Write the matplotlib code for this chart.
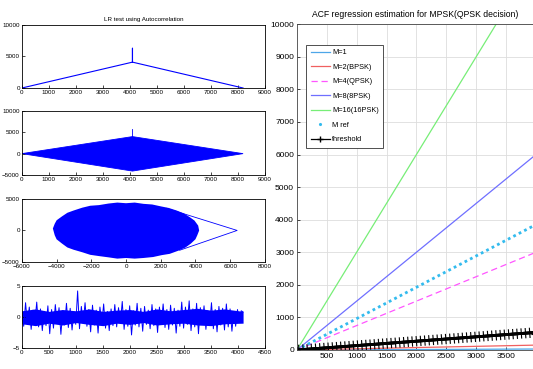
import numpy as np
import matplotlib
matplotlib.use("Agg")
import matplotlib.pyplot as plt
import matplotlib.patheffects as pe
from matplotlib.lines import Line2D

plt.rcParams['font.family'] = ['Liberation Sans', 'DejaVu Sans']

# ---- left column: LR test using autocorrelation ----
acf_abs_x = [0, 4096, 4096, 4096, 8192]
acf_abs_y = [0, 4100, 6300, 4100, 0]

acf_re_x = [0, 4096, 8192, 4096]
acf_re_y = [0, 4000, 0, -4100]
acf_re_spike = [4000, 5900]

blob_x = [-4150, -4050, -3950, -3650, -3350, -3000, -2500, -2050, -1550, -1000, -500, 0, 500, 1000,
          1500, 2000, 2450, 2900, 3300, 3650, 3900, 4100, 4150, 4050, 3950, 3700, 3400, 3000,
          2500, 2050, 1550, 1000, 500, 0, -500, -1000, -1550, -2050, -2500, -3000, -3350,
          -3650, -3950, -4050]
blob_y = [300, 1000, 1500, 2100, 2650, 3000, 3450, 3750, 3850, 4100, 4250, 4150, 4250, 4050,
          3950, 3650, 3400, 3000, 2550, 1950, 1450, 700, 0, -700, -1300, -1950, -2550, -3050,
          -3550, -3750, -4050, -4200, -4300, -4200, -4300, -4100, -3900, -3700, -3300, -2900,
          -2550, -1950, -1300, -700]
tri_x = [2320, 6400, 3090]
tri_y = [3510, 0, -3140]

sig_vals = [0.8, -1.5, 2.3, -1.2, 1.6, -2.0, 1.1, -0.9, 2.4, -1.6,
            1.3, -2.2, 0.9, -1.4, 1.8, -2.7, 1.2, -1.8, 2.0, -1.1,
            1.5, -2.8, 1.0, -1.3, 2.2, -1.7, 1.4, -2.1, 0.8, -1.2,
            4.2, -1.9, 1.7, -1.0, 2.3, -1.5, 1.2, -2.4, 1.9, -1.3,
            1.1, -2.6, 1.6, -1.1, 2.1, -1.8, 0.9, -2.2, 1.3, -1.4,
            2.0, -1.6, 1.5, -1.0, 2.5, -2.0, 1.2, -1.5, 1.8, -2.9,
            1.0, -1.3, 2.2, -1.6, 1.4, -2.3, 1.7, -1.2, 1.1, -1.9,
            2.0, -1.4, 1.3, -2.5, 1.6, -1.0, 2.1, -1.7, 1.2, -2.0,
            1.9, -1.3, 1.4, -2.6, 1.1, -1.5, 2.4, -1.8, 1.6, -1.2,
            2.6, -2.2, 1.3, -1.6, 2.2, -2.7, 1.5, -1.1, 1.8, -2.0,
            1.0, -1.4, 2.3, -1.9, 1.2, -2.4, 1.7, -1.3, 1.4, -2.1,
            2.1, -1.6, 1.3, -2.3, 0.9, -1.5, 1.2, -0.8, 1.0, 0.8]
sig_len = 4096
# dense core of the noise band
band_x = [0, 250, 500, 750, 1000, 1250, 1500, 1750, 2000, 2250, 2500, 2750, 3000, 3250,
          3500, 3750, 4096]
band_hi = [1.0, 1.3, 0.9, 1.2, 1.0, 1.3, 0.9, 1.1, 1.2, 0.9, 1.3, 1.0, 1.2, 1.4, 1.1, 1.3, 0.9]
band_lo = [-1.1, -1.4, -1.0, -1.3, -0.9, -1.2, -1.4, -1.0, -1.2, -0.9, -1.3, -1.1, -1.0, -1.3,
           -1.4, -1.1, -1.0]

# ---- right: ACF regression ----
reg_x = [0, 4000]
reg_lines = {
    "M=1": [0, 30],
    "M=2(BPSK)": [0, 150],
    "M=4(QPSK)": [0, 3000],
    "M=8(8PSK)": [0, 6000],
    "M=16(16PSK)": [0, 12000],
}
mref_y = [0, 3850]
thr_y = [0, 540]

blue = "#0000ff"
fig = plt.figure(figsize=(5.33, 3.69), dpi=100)

def style_small(ax):
    ax.tick_params(direction="in", length=2, width=0.5, labelsize=4.5, pad=1.5)
    for s in ax.spines.values():
        s.set_linewidth(0.6)

ax1 = fig.add_axes([0.041, 0.7615, 0.456, 0.171])
ax1.plot(acf_abs_x, acf_abs_y, color=blue, lw=0.8)
ax1.set_xlim(0, 9000)
ax1.set_ylim(0, 10000)
ax1.set_xticks(range(0, 9001, 1000))
ax1.set_yticks([0, 5000, 10000])
ax1.set_title("LR test using Autocorrelation", fontsize=4.5, pad=3)
style_small(ax1)

ax2 = fig.add_axes([0.041, 0.526, 0.456, 0.173])
ax2.fill(acf_re_x, acf_re_y, color=blue, lw=0.6)
ax2.plot([4096, 4096], acf_re_spike, color=blue, lw=0.6)
ax2.set_xlim(0, 9000)
ax2.set_ylim(-5000, 10000)
ax2.set_xticks(range(0, 9001, 1000))
ax2.set_yticks([-5000, 0, 5000, 10000])
style_small(ax2)

ax3 = fig.add_axes([0.041, 0.29, 0.456, 0.171])
ax3.fill(blob_x, blob_y, color=blue, lw=1.5, ec=blue)
ax3.plot(tri_x, tri_y, color=blue, lw=0.6)
ax3.set_xlim(-6000, 8000)
ax3.set_ylim(-5000, 5000)
ax3.set_xticks(range(-6000, 8001, 2000))
ax3.set_yticks([-5000, 0, 5000])
style_small(ax3)

ax4 = fig.add_axes([0.041, 0.057, 0.456, 0.168])
ax4.fill_between(band_x, band_lo, band_hi, color=blue, lw=0)
ax4.plot(np.linspace(0, sig_len, len(sig_vals)), sig_vals, color=blue, lw=0.7)
ax4.set_xlim(0, 4500)
ax4.set_ylim(-5, 5)
ax4.set_xticks(range(0, 4501, 500))
ax4.set_yticks([-5, 0, 5])
style_small(ax4)

# right panel
ax = fig.add_axes([0.557, 0.0515, 0.443, 0.883])
colors = ["#4da6e8", "#f06060", "#ff55ff", "#6f6fff", "#77ee77"]
styles = ["-", "-", (0, (5, 3)), "-", "-"]
handles = []
for (lab, ys), c, ls in zip(reg_lines.items(), colors, styles):
    h, = ax.plot(reg_x, ys, color=c, ls=ls, lw=0.9, label=lab)
    handles.append(h)
ax.plot(reg_x, mref_y, color="#33bbee", ls=(0, (1, 1.2)), lw=2.0)
handles.append(Line2D([], [], ls="none", marker=".", ms=2.5, color="#33bbee", label="M ref"))
ax.plot(reg_x, thr_y, color="black", lw=2.0, marker="+", ms=5, mew=0.8,
        path_effects=[pe.withTickedStroke(angle=90, spacing=3, length=1.1, linewidth=0.8),
                      pe.withTickedStroke(angle=-90, spacing=3, length=1.1, linewidth=0.8),
                      pe.Normal()])
handles.append(Line2D([], [], color="black", lw=0.9, marker="+", ms=5, mew=1.0, label="threshold"))
ax.set_xlim(0, 3950)
ax.set_ylim(0, 10000)
ax.set_xticks(range(500, 3501, 500))
ax.set_yticks(range(0, 10001, 1000))
ax.grid(True, color="#dddddd", lw=0.6)
ax.tick_params(direction="in", length=2, width=0.5, labelsize=6, pad=2)
for s in ax.spines.values():
    s.set_linewidth(0.6)
    s.set_color("#444444")
ax.set_title("ACF regression estimation for MPSK(QPSK decision)", fontsize=6.2, pad=5)
leg = ax.legend(handles=handles, loc="upper left", bbox_to_anchor=(0.025, 0.948), fontsize=5.3,
                fancybox=False, framealpha=1, edgecolor="#333333", handlelength=2.6,
                borderpad=0.6, labelspacing=1.0, handletextpad=0.3, numpoints=1)
leg.get_frame().set_linewidth(0.6)

fig.savefig("out.png", dpi=100)
